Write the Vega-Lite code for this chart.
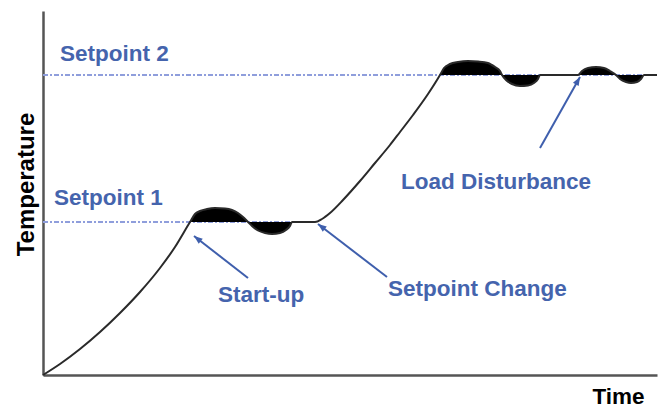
{
  "$schema": "https://vega.github.io/schema/vega-lite/v6.json",
  "width": 614,
  "height": 364,
  "autosize": {"type": "none"},
  "padding": {"left": 43, "top": 11, "right": 4, "bottom": 32},
  "background": "white",
  "config": {
    "view": {"stroke": null},
    "font": "Liberation Sans"
  },
  "datasets": {
    "curve": [
      {"t": 0, "temp": 0},
      {"t": 17, "temp": 11},
      {"t": 37, "temp": 26},
      {"t": 57, "temp": 43},
      {"t": 77, "temp": 62},
      {"t": 97, "temp": 83},
      {"t": 117, "temp": 107},
      {"t": 132, "temp": 128},
      {"t": 147, "temp": 153, "sp": 153, "seg": "a"},
      {"t": 152, "temp": 161, "sp": 153, "seg": "a"},
      {"t": 157, "temp": 164, "sp": 153, "seg": "a"},
      {"t": 164, "temp": 166, "sp": 153, "seg": "a"},
      {"t": 172, "temp": 167, "sp": 153, "seg": "a"},
      {"t": 182, "temp": 166.5, "sp": 153, "seg": "a"},
      {"t": 189, "temp": 165, "sp": 153, "seg": "a"},
      {"t": 195, "temp": 162, "sp": 153, "seg": "a"},
      {"t": 200, "temp": 158, "sp": 153, "seg": "a"},
      {"t": 205, "temp": 153, "sp": 153, "seg": "a"},
      {"t": 209, "temp": 149, "sp": 153, "seg": "a"},
      {"t": 215, "temp": 144.5, "sp": 153, "seg": "a"},
      {"t": 222, "temp": 142, "sp": 153, "seg": "a"},
      {"t": 229, "temp": 141, "sp": 153, "seg": "a"},
      {"t": 237, "temp": 142, "sp": 153, "seg": "a"},
      {"t": 243, "temp": 145, "sp": 153, "seg": "a"},
      {"t": 247, "temp": 149, "sp": 153, "seg": "a"},
      {"t": 249, "temp": 153, "sp": 153, "seg": "a"},
      {"t": 272, "temp": 153},
      {"t": 279, "temp": 156},
      {"t": 287, "temp": 162},
      {"t": 300, "temp": 175},
      {"t": 317, "temp": 194},
      {"t": 332, "temp": 212},
      {"t": 347, "temp": 230},
      {"t": 357, "temp": 243},
      {"t": 370, "temp": 260},
      {"t": 385, "temp": 281},
      {"t": 397, "temp": 300, "sp": 300, "seg": "b"},
      {"t": 401, "temp": 307, "sp": 300, "seg": "b"},
      {"t": 407, "temp": 311, "sp": 300, "seg": "b"},
      {"t": 415, "temp": 313, "sp": 300, "seg": "b"},
      {"t": 425, "temp": 314, "sp": 300, "seg": "b"},
      {"t": 435, "temp": 313.5, "sp": 300, "seg": "b"},
      {"t": 445, "temp": 312, "sp": 300, "seg": "b"},
      {"t": 452, "temp": 308, "sp": 300, "seg": "b"},
      {"t": 457, "temp": 304, "sp": 300, "seg": "b"},
      {"t": 459, "temp": 300, "sp": 300, "seg": "b"},
      {"t": 463, "temp": 295, "sp": 300, "seg": "b"},
      {"t": 469, "temp": 291, "sp": 300, "seg": "b"},
      {"t": 477, "temp": 289, "sp": 300, "seg": "b"},
      {"t": 485, "temp": 289.5, "sp": 300, "seg": "b"},
      {"t": 491, "temp": 292, "sp": 300, "seg": "b"},
      {"t": 495, "temp": 296, "sp": 300, "seg": "b"},
      {"t": 497, "temp": 300, "sp": 300, "seg": "b"},
      {"t": 535, "temp": 300, "sp": 300, "seg": "c"},
      {"t": 539, "temp": 304, "sp": 300, "seg": "c"},
      {"t": 545, "temp": 307, "sp": 300, "seg": "c"},
      {"t": 553, "temp": 308, "sp": 300, "seg": "c"},
      {"t": 561, "temp": 307, "sp": 300, "seg": "c"},
      {"t": 567, "temp": 304, "sp": 300, "seg": "c"},
      {"t": 573, "temp": 300, "sp": 300, "seg": "c"},
      {"t": 577, "temp": 296, "sp": 300, "seg": "c"},
      {"t": 583, "temp": 293, "sp": 300, "seg": "c"},
      {"t": 588, "temp": 292, "sp": 300, "seg": "c"},
      {"t": 594, "temp": 293, "sp": 300, "seg": "c"},
      {"t": 598, "temp": 296, "sp": 300, "seg": "c"},
      {"t": 601, "temp": 300, "sp": 300, "seg": "c"},
      {"t": 614, "temp": 300}
    ],
    "setpoints": [
      {"name": "Setpoint 1", "value": 153, "from": 0, "to": 272},
      {"name": "Setpoint 2", "value": 300, "from": 0, "to": 614}
    ],
    "arrows": [
      {"label": "Start-up", "x0": 205, "y0": 97, "x1": 151, "y1": 139},
      {"label": "Setpoint Change", "x0": 344, "y0": 98, "x1": 275, "y1": 151},
      {"label": "Load Disturbance", "x0": 497, "y0": 227, "x1": 537, "y1": 298}
    ],
    "labels": [
      {"text": "Setpoint 2", "lx": 17, "ly": 314},
      {"text": "Setpoint 1", "lx": 11, "ly": 170},
      {"text": "Start-up", "lx": 175, "ly": 73},
      {"text": "Setpoint Change", "lx": 345, "ly": 79},
      {"text": "Load Disturbance", "lx": 358, "ly": 186}
    ]
  },
  "layer": [
    {
      "data": {"name": "curve"},
      "mark": {"type": "line", "opacity": 0},
      "encoding": {
        "x": {
          "field": "t", "type": "quantitative",
          "scale": {"domain": [0, 614], "nice": false, "zero": false},
          "axis": {
            "domain": true, "domainColor": "#555555", "domainWidth": 2.5,
            "ticks": false, "labels": false, "grid": false,
            "title": "Time", "titleFont": "Liberation Sans", "titleFontSize": 22.5,
            "titleFontWeight": "bold", "titleColor": "#000000",
            "titleX": 601, "titleY": 28, "titleAlign": "right", "titleBaseline": "alphabetic"
          }
        },
        "y": {
          "field": "temp", "type": "quantitative",
          "scale": {"domain": [0, 364], "nice": false, "zero": false},
          "axis": {
            "domain": true, "domainColor": "#555555", "domainWidth": 2.5,
            "ticks": false, "labels": false, "grid": false,
            "title": "Temperature", "titleFont": "Liberation Sans", "titleFontSize": 24,
            "titleFontWeight": "bold", "titleColor": "#000000",
            "titleX": -10, "titleY": 173, "titleAngle": 270,
            "titleAlign": "center", "titleBaseline": "alphabetic"
          }
        }
      }
    },
    {
      "data": {"name": "setpoints"},
      "mark": {"type": "rule", "color": "#8f9edc", "strokeWidth": 1.8, "strokeDash": [5, 2, 2, 2]},
      "encoding": {
        "x": {"field": "from", "type": "quantitative"},
        "x2": {"field": "to"},
        "y": {"field": "value", "type": "quantitative"}
      }
    },
    {
      "data": {"name": "curve"},
      "transform": [{"filter": "datum.seg != null"}],
      "mark": {"type": "area", "color": "#000000", "interpolate": "monotone", "opacity": 1},
      "encoding": {
        "x": {"field": "t", "type": "quantitative"},
        "y": {"field": "temp", "type": "quantitative"},
        "y2": {"field": "sp"},
        "detail": {"field": "seg", "type": "nominal"}
      }
    },
    {
      "data": {"name": "curve"},
      "mark": {"type": "line", "color": "#2a2a2a", "strokeWidth": 2, "interpolate": "monotone"},
      "encoding": {
        "x": {"field": "t", "type": "quantitative"},
        "y": {"field": "temp", "type": "quantitative"}
      }
    },
    {
      "data": {"name": "arrows"},
      "mark": {"type": "rule", "color": "#3f5fad", "strokeWidth": 2},
      "encoding": {
        "x": {"field": "x0", "type": "quantitative"},
        "y": {"field": "y0", "type": "quantitative"},
        "x2": {"field": "x1"},
        "y2": {"field": "y1"}
      }
    },
    {
      "data": {"name": "arrows"},
      "transform": [{"filter": "datum.label === 'Start-up'"}],
      "mark": {"type": "point", "shape": "M0,0L0.85,2.2L-0.85,2.2Z", "filled": true, "color": "#3f5fad", "opacity": 1, "size": 60, "angle": 308},
      "encoding": {
        "x": {"field": "x1", "type": "quantitative"},
        "y": {"field": "y1", "type": "quantitative"}
      }
    },
    {
      "data": {"name": "arrows"},
      "transform": [{"filter": "datum.label === 'Setpoint Change'"}],
      "mark": {"type": "point", "shape": "M0,0L0.85,2.2L-0.85,2.2Z", "filled": true, "color": "#3f5fad", "opacity": 1, "size": 60, "angle": 307.5},
      "encoding": {
        "x": {"field": "x1", "type": "quantitative"},
        "y": {"field": "y1", "type": "quantitative"}
      }
    },
    {
      "data": {"name": "arrows"},
      "transform": [{"filter": "datum.label === 'Load Disturbance'"}],
      "mark": {"type": "point", "shape": "M0,0L0.85,2.2L-0.85,2.2Z", "filled": true, "color": "#3f5fad", "opacity": 1, "size": 60, "angle": 29.4},
      "encoding": {
        "x": {"field": "x1", "type": "quantitative"},
        "y": {"field": "y1", "type": "quantitative"}
      }
    },
    {
      "data": {"name": "labels"},
      "mark": {"type": "text", "align": "left", "baseline": "alphabetic", "font": "Liberation Sans", "fontSize": 22.5, "fontWeight": "bold", "color": "#4564ad"},
      "encoding": {
        "x": {"field": "lx", "type": "quantitative"},
        "y": {"field": "ly", "type": "quantitative"},
        "text": {"field": "text", "type": "nominal"}
      }
    }
  ]
}
